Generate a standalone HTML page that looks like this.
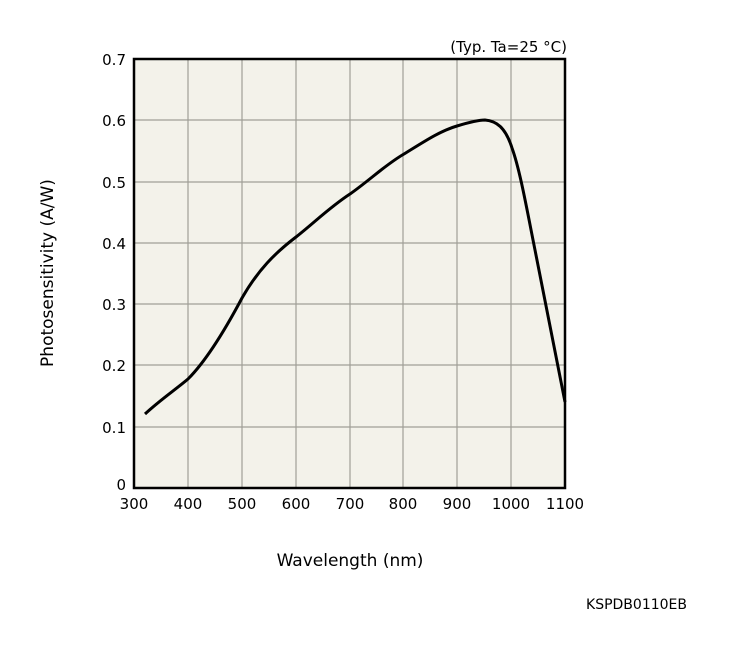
<!DOCTYPE html>
<html><head><style>body{margin:0;background:#fff}</style></head><body>
<svg width="744" height="658" xmlns="http://www.w3.org/2000/svg" font-family="DejaVu Sans, Liberation Sans, sans-serif" font-size="15" fill="#000">
<rect x="134" y="59" width="431" height="429" fill="#f3f2ea"/>
<g stroke="#a09f97" stroke-width="1.2">
<line x1="188" y1="59" x2="188" y2="488"/><line x1="242" y1="59" x2="242" y2="488"/>
<line x1="296" y1="59" x2="296" y2="488"/><line x1="350" y1="59" x2="350" y2="488"/>
<line x1="403" y1="59" x2="403" y2="488"/><line x1="457" y1="59" x2="457" y2="488"/>
<line x1="511" y1="59" x2="511" y2="488"/>
<line x1="134" y1="120" x2="565" y2="120"/><line x1="134" y1="182" x2="565" y2="182"/>
<line x1="134" y1="243" x2="565" y2="243"/><line x1="134" y1="304" x2="565" y2="304"/>
<line x1="134" y1="365" x2="565" y2="365"/><line x1="134" y1="427" x2="565" y2="427"/>
</g>
<rect x="134" y="59" width="431" height="429" fill="none" stroke="#000" stroke-width="2.5"/>
<path d="M145,414 C160,400 175,390 188,379 C205,362 225,330 242,298 C258,270 275,253 296,237 C315,222 330,207 350,194 C370,180 385,165 404,154 C425,141 440,131 457,126 C470,122 478,120 485,120 C497,121 505,128 511,145 L512,148 C520,170 527,210 535,250 C545,300 555,350 565,402" fill="none" stroke="#000" stroke-width="3"/>
<g text-anchor="end">
<text x="126" y="65">0.7</text><text x="126" y="126">0.6</text><text x="126" y="188">0.5</text>
<text x="126" y="249">0.4</text><text x="126" y="310">0.3</text><text x="126" y="371">0.2</text>
<text x="126" y="433">0.1</text><text x="126" y="490">0</text>
</g>
<g text-anchor="middle">
<text x="134" y="509">300</text><text x="188" y="509">400</text><text x="242" y="509">500</text>
<text x="296" y="509">600</text><text x="350" y="509">700</text><text x="403" y="509">800</text>
<text x="457" y="509">900</text><text x="511" y="509">1000</text><text x="565" y="509">1100</text>
<text x="350" y="566" font-size="17">Wavelength (nm)</text>
<text transform="translate(53,273) rotate(-90)" font-size="17">Photosensitivity (A/W)</text>
</g>
<text x="567" y="52" text-anchor="end">(Typ. Ta=25 °C)</text>
<text x="687" y="609" text-anchor="end" font-size="14">KSPDB0110EB</text>
</svg>
</body></html>
